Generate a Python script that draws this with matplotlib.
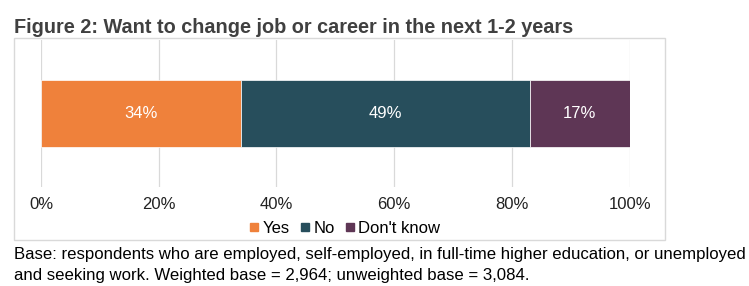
import matplotlib.pyplot as plt
from matplotlib.patches import Rectangle
from matplotlib.lines import Line2D

plt.rcParams['font.family'] = ['Liberation Sans', 'DejaVu Sans']

# data
categories = ["Yes", "No", "Don't know"]
values = [34, 49, 17]
colors = ["#EF813B", "#274E5C", "#5E3655"]
ticks = [0, 20, 40, 60, 80, 100]
tick_labels = ["0%", "20%", "40%", "60%", "80%", "100%"]

fig = plt.figure(figsize=(7.49, 2.86), dpi=100)

# outer chart box
fig.patches.append(Rectangle((0.0187, 0.161), 0.869, 0.706, transform=fig.transFigure,
                             fill=False, edgecolor="#D9D9D9", linewidth=1.0))

ax = fig.add_axes([0.0547, 0.346, 0.786, 0.514])
left = 0
for cat, v, c in zip(categories, values, colors):
    ax.barh(0, v, left=left, height=0.5, color=c, edgecolor="white", linewidth=0.5, zorder=3)
    ax.text(left + v / 2, 0, f"{v}%", ha="center", va="center", color="white", fontsize=12, zorder=4)
    left += v

ax.set_xlim(0, 100)
ax.set_ylim(-0.55, 0.55)
ax.set_xticks(ticks)
ax.set_xticklabels(tick_labels, fontsize=12, color="#222222")
ax.set_yticks([])
ax.tick_params(axis="x", length=0, pad=7)
ax.grid(axis="x", color="#D9D9D9", linewidth=0.9, zorder=0)
for s in ax.spines.values():
    s.set_visible(False)

handles = [Line2D([], [], marker="s", linestyle="none", markersize=6, color=c) for c in colors]
fig.legend(handles, categories, loc="center", bbox_to_anchor=(0.459, 0.201), ncol=3,
           frameon=False, fontsize=12, handletextpad=0.1, columnspacing=0.5,
           handlelength=0.8, borderpad=0)

fig.text(0.0187, 0.905, "Figure 2: Want to change job or career in the next 1-2 years",
         fontsize=14.3, fontweight="bold", color="#404040", ha="left", va="center")
fig.text(0.0187, 0.075,
         "Base: respondents who are employed, self-employed, in full-time higher education, or unemployed\n"
         "and seeking work. Weighted base = 2,964; unweighted base = 3,084.",
         fontsize=12.1, color="black", ha="left", va="center", linespacing=1.5)

fig.savefig("out.png", dpi=100)
